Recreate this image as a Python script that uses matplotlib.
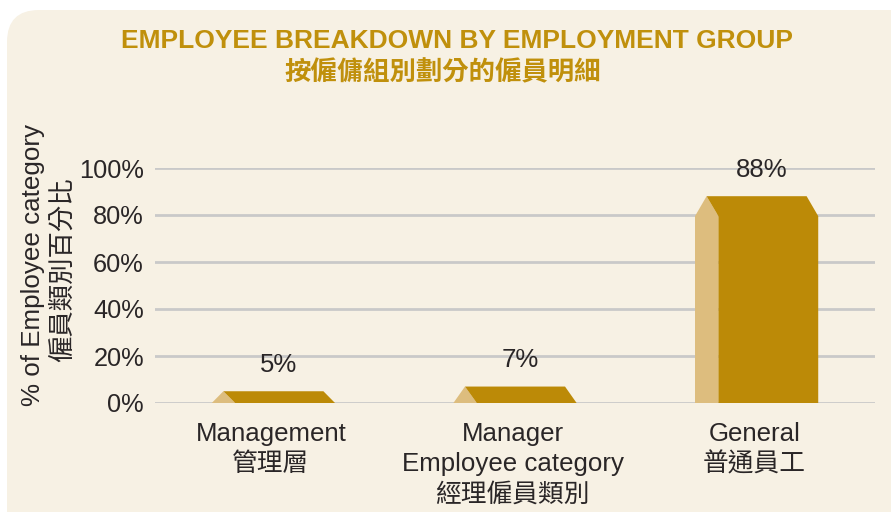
import matplotlib
matplotlib.use("Agg")
import matplotlib.pyplot as plt
from matplotlib.patches import Polygon, FancyBboxPatch
from matplotlib.transforms import blended_transform_factory

# ---- data ----
categories_en = ["Management", "Manager\nEmployee category", "General"]
categories_zh = ["管理層", "經理僱員類別", "普通員工"]
values = [5, 7, 88]
value_labels = ["5%", "7%", "88%"]
yticks = [0, 20, 40, 60, 80, 100]
ytick_labels = ["0%", "20%", "40%", "60%", "80%", "100%"]
title_en = "EMPLOYEE BREAKDOWN BY EMPLOYMENT GROUP"
title_zh = "按僱傭組別劃分的僱員明細"
ylabel_en = "% of Employee category"
ylabel_zh = "僱員類別百分比"

# ---- style ----
W, H, DPI = 8.91, 5.12, 100
BG = "#F7F1E4"
DARK = "#BC8A07"
LIGHT = "#DDBD7E"
GOLD = "#C0900C"
TXT = "#2A2627"
GRID = "#C9C9C9"
LAT = ["Liberation Sans", "DejaVu Sans"]
CJK = ["Noto Sans CJK TC", "DejaVu Sans"]

fig = plt.figure(figsize=(W, H), dpi=DPI, facecolor="white")
panel = FancyBboxPatch((0.07, -0.6), 10.0, 5.62,
                       boxstyle="round,pad=0,rounding_size=0.32",
                       transform=fig.dpi_scale_trans, facecolor=BG,
                       edgecolor="none", zorder=0)
fig.add_artist(panel)

def px(xp, yp):
    return xp / (W * DPI), 1 - yp / (H * DPI)

left, top = px(155, 168)
right, bottom = px(875, 403)
ax = fig.add_axes([left, bottom, right - left, top - bottom])
ax.set_facecolor("none")
ax.set_xlim(-0.49, 2.49)
ax.set_ylim(0, 100)
for s in ax.spines.values():
    s.set_visible(False)
ax.set_yticks(yticks)
ax.set_yticklabels(ytick_labels, family=LAT, fontsize=18.3, color=TXT)
ax.tick_params(axis="y", length=0, pad=8)
ax.set_xticks([])
for t in yticks:
    ax.axhline(t, color=GRID, lw=2, zorder=1)

# ---- bars ----
bw = 0.51
lw_face = 0.097
dx = 0.048
dy_full = 8.5
for i, v in enumerate(values):
    x0 = i - bw / 2
    x1 = i + bw / 2
    dy = min(dy_full, v)
    light = [(x0, 0), (x0, v - dy), (x0 + dx, v), (x0 + lw_face, v - dy), (x0 + lw_face, 0)]
    dark = [(x0 + lw_face, 0), (x0 + lw_face, v - dy), (x0 + dx, v), (x1 - dx, v),
            (x1, v - dy), (x1, 0)]
    ax.add_patch(Polygon(light, closed=True, facecolor=LIGHT, edgecolor="none", zorder=3))
    ax.add_patch(Polygon(dark, closed=True, facecolor=DARK, edgecolor="none", zorder=3))
    ax.annotate(value_labels[i], xy=(i + 0.02, v), xytext=(0, 19),
                textcoords="offset points", ha="center", va="center",
                family=LAT, fontsize=18.5, color=TXT, zorder=4)

# ---- category labels ----
tr = blended_transform_factory(ax.transData, fig.transFigure)
line_y = [434, 464, 495]
for i in range(len(categories_en)):
    en_lines = categories_en[i].split("\n")
    k = 0
    for ln in en_lines:
        ax.text(i - 0.01, px(0, line_y[k])[1], ln, transform=tr, ha="center", va="center",
                family=LAT, fontsize=18.6, color=TXT)
        k += 1
    ax.text(i - 0.01, px(0, line_y[k])[1], categories_zh[i], transform=tr, ha="center",
            va="center", family=CJK, fontsize=18.5, color=TXT, fontweight="light")

# ---- y label ----
fig.text(*px(33, 265), ylabel_en, rotation=90, ha="center", va="center",
         family=LAT, fontsize=18.7, color=TXT)
fig.text(*px(62, 270), ylabel_zh, rotation=90, ha="center", va="center",
         family=CJK, fontsize=19, color=TXT, fontweight="light")

# ---- titles ----
fig.text(*px(457, 41), title_en, ha="center", va="center", family=LAT,
         fontsize=19, fontweight="bold", color=GOLD)
fig.text(*px(443, 73), title_zh, ha="center", va="center", family=CJK,
         fontsize=19, fontweight="bold", color=GOLD)

fig.savefig("out.png", dpi=DPI, facecolor="white")
